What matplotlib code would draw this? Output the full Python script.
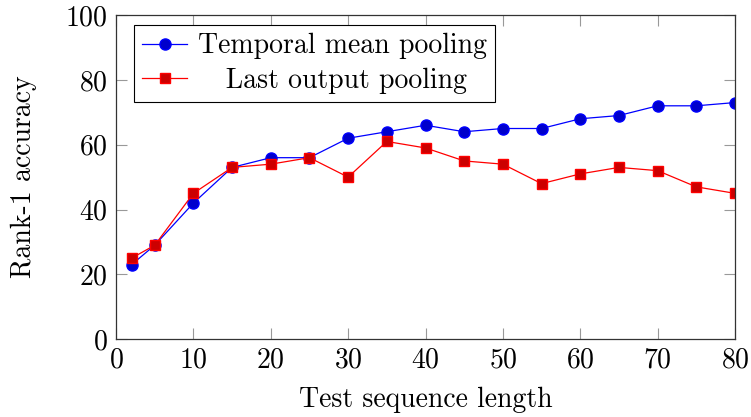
import matplotlib
matplotlib.use("Agg")
import matplotlib.pyplot as plt

plt.rcParams["font.family"] = ["cmr10", "DejaVu Serif"]
plt.rcParams["mathtext.fontset"] = "cm"
plt.rcParams["axes.formatter.use_mathtext"] = True

seq_len = [2, 5, 10, 15, 20, 25, 30, 35, 40, 45, 50, 55, 60, 65, 70, 75, 80]
temporal_mean = [23, 29, 42, 53, 56, 56, 62, 64, 66, 64, 65, 65, 68, 69, 72, 72, 73]
last_output = [25, 29, 45, 53, 54, 56, 50, 61, 59, 55, 54, 48, 51, 53, 52, 47, 45]

fig = plt.figure(figsize=(7.51, 4.17), dpi=100)
ax = fig.add_axes([0.1545, 0.1864, 0.8242, 0.7776])

ax.plot(seq_len, temporal_mean, color="blue", lw=0.9, marker="o", ms=8,
        mfc="#0000cc", mec="blue", label="Temporal mean pooling")
# leading spaces mimic the centred legend entries of the original
ax.plot(seq_len, last_output, color="red", lw=0.9, marker="s", ms=7.5,
        mfc="#cc0000", mec="red", label="   Last output pooling")

ax.set_xlim(0, 80)
ax.set_ylim(0, 100)
ax.set_xticks(range(0, 81, 10))
ax.set_yticks(range(0, 101, 20))
ax.tick_params(direction="in", top=True, right=True, labelsize=20, length=8,
               width=0.8, color="#999999", pad=6)
ax.set_xlabel("Test sequence length", fontsize=20, labelpad=9)
ax.set_ylabel("Rank-1 accuracy", fontsize=20, labelpad=20)
for s in ax.spines.values():
    s.set_linewidth(0.9)
    s.set_color("#333333")

leg = ax.legend(loc="upper left", fontsize=20, fancybox=False, edgecolor="black",
                framealpha=1, handlelength=1.6, handletextpad=0.4, borderpad=0.3,
                labelspacing=0.3, borderaxespad=0, bbox_to_anchor=(0.029, 0.97))
leg.get_frame().set_linewidth(0.8)

fig.savefig("out.png", dpi=100)
